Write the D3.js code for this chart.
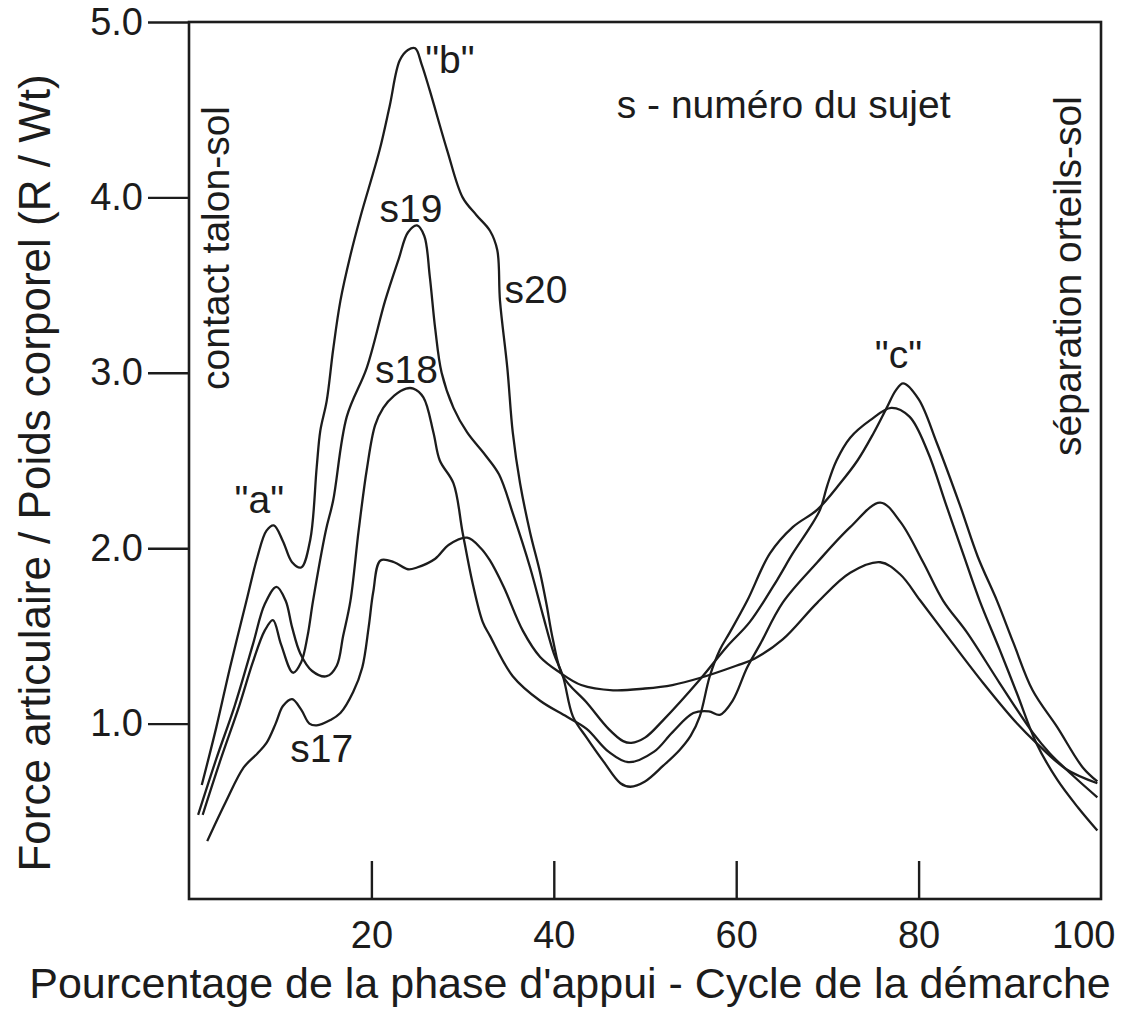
<!DOCTYPE html>
<html>
<head>
<meta charset="utf-8">
<script src="https://cdn.jsdelivr.net/npm/d3@7"></script>
<style>
  body { margin: 0; background: #fff; }
  svg { display: block; font-family: "Liberation Sans", Arial, Helvetica, sans-serif; }
</style>
</head>
<body>
<div id="chart"></div>
<script>
// force curves: [percent of stance phase, R / Wt]
const s17 = [[2,0.33],[4,0.55],[6,0.75],[7.5,0.83],[8.5,0.89],[9.5,1.0],[10.3,1.1],[11.3,1.14],[12.3,1.08],[13.2,1.0],[14,0.99],[15.5,1.02],[16.6,1.06],[18,1.18],[19,1.32],[19.7,1.55],[20.2,1.75],[21,1.93],[22.5,1.92],[24,1.88],[25,1.89],[27,1.94],[28.5,2.02],[30.5,2.06],[32,2.0],[33,1.93],[34.5,1.78],[36.6,1.53],[38.5,1.38],[40.7,1.29],[43,1.22],[46.5,1.19],[50,1.2],[53,1.22],[56,1.26],[60,1.33],[62,1.37],[65.1,1.48],[68.9,1.69],[72.5,1.86],[75.8,1.92],[78,1.85],[80.2,1.70],[83.4,1.48],[87.1,1.23],[90.8,1.0],[92.9,0.89],[96.2,0.74],[99.6,0.66]];
const s18 = [[1.0,0.48],[3,0.8],[5,1.1],[7,1.45],[8.3,1.68],[9.6,1.78],[10.6,1.7],[11.3,1.55],[12.2,1.4],[13.5,1.3],[15.1,1.27],[16.2,1.33],[16.9,1.5],[17.7,1.7],[18.6,2.1],[19.5,2.45],[20.4,2.7],[21.3,2.8],[22.5,2.87],[23.8,2.91],[24.6,2.91],[25.7,2.86],[26.8,2.66],[27.5,2.5],[29,2.37],[30,2.09],[31.1,1.8],[32.2,1.58],[33,1.5],[35.5,1.27],[38.5,1.13],[41.4,1.04],[43.6,0.97],[46,0.84],[48.2,0.78],[51,0.84],[53,0.95],[55.3,1.06],[57,1.07],[58.2,1.05],[59.6,1.13],[61.2,1.32],[62.6,1.45],[65.1,1.69],[68.9,1.92],[72.5,2.12],[75.8,2.26],[78,2.15],[80.5,1.92],[82.7,1.7],[85.3,1.52],[88.9,1.23],[92.5,0.95],[94.4,0.83],[97,0.7],[99.6,0.58]];
const s19 = [[1.5,0.48],[3.5,0.8],[5.5,1.1],[7,1.35],[8.3,1.53],[9.2,1.59],[10.1,1.45],[11.4,1.29],[12.3,1.35],[13,1.5],[13.6,1.7],[15,2.1],[15.8,2.27],[17.3,2.75],[19.5,3.03],[21.5,3.41],[23,3.65],[24,3.8],[25,3.84],[25.8,3.78],[26.4,3.55],[27,3.25],[27.7,3.0],[29,2.8],[30.5,2.66],[32.5,2.53],[34,2.42],[35.5,2.2],[37.4,1.89],[38.8,1.62],[40,1.4],[41,1.27],[42.1,1.04],[43.6,0.92],[45.5,0.78],[47.3,0.66],[48.4,0.64],[50,0.67],[52,0.76],[53.8,0.85],[55,0.93],[56,1.04],[57.1,1.27],[58.2,1.42],[59.3,1.52],[61.2,1.7],[63.7,1.97],[66.2,2.12],[68.9,2.22],[71.4,2.37],[73.3,2.5],[75,2.65],[76.5,2.8],[77.5,2.9],[78.3,2.94],[80,2.85],[82,2.6],[84.5,2.25],[86.5,1.95],[88.6,1.7],[90.4,1.46],[92.5,1.19],[95.2,0.98],[98,0.75],[99.6,0.67]];
const s20 = [[1.4,0.65],[3,0.98],[4.5,1.32],[6.3,1.7],[7.5,1.95],[8.5,2.1],[9.3,2.13],[10.3,2.04],[11.3,1.92],[12.3,1.89],[13.3,2.05],[14,2.46],[14.4,2.67],[15.1,2.84],[15.8,3.13],[16.6,3.41],[17.7,3.67],[18.8,3.89],[20.9,4.27],[22,4.52],[23.1,4.78],[24,4.84],[24.8,4.85],[25.5,4.76],[26.4,4.61],[28.3,4.27],[30,4.0],[31.5,3.9],[33,3.81],[33.8,3.7],[34.1,3.41],[34.9,3.03],[35.5,2.66],[36.3,2.37],[37.4,2.09],[38.5,1.86],[39.2,1.68],[39.9,1.48],[41,1.27],[43.6,1.12],[46,0.97],[47.6,0.9],[48.5,0.89],[50,0.92],[52,1.02],[56,1.25],[59,1.44],[61.5,1.58],[64.5,1.82],[66.2,1.97],[68.1,2.12],[69.2,2.22],[70,2.36],[71,2.5],[72.5,2.63],[74.7,2.73],[77,2.8],[79,2.75],[81,2.55],[83,2.25],[85,1.95],[86.7,1.7],[88.9,1.42],[90.8,1.17],[92.9,0.89],[95.2,0.68],[97.5,0.52],[99.6,0.39]];

const xTicks = [20, 40, 60, 80, 100];
const yTicks = [1, 2, 3, 4, 5];

// annotations: [text, x, y] in data units (left / baseline)
const notes = [
  ['"a"', 5.0, 2.2],
  ['"b"', 25.9, 4.71],
  ['"c"', 75.2, 3.03],
  ['s17', 11.1, 0.78],
  ['s18', 20.4, 2.94],
  ['s19', 20.9, 3.86],
  ['s20', 34.6, 3.40],
  ['s - numéro du sujet', 46.9, 4.45]
];

const width = 1126, height = 1019;
const ink = '#1c1c1c';

const svg = d3.select('#chart').append('svg')
  .attr('width', width)
  .attr('height', height);

const x = d3.scaleLinear().domain([0, 100]).range([189, 1101]);
const y = d3.scaleLinear().domain([0, 5]).range([899, 22]);

// frame
svg.append('rect')
  .attr('x', x(0)).attr('y', y(5))
  .attr('width', x(100) - x(0)).attr('height', y(0) - y(5))
  .attr('fill', 'none').attr('stroke', ink).attr('stroke-width', 2.6);

// y axis: ticks point out to the left
const yAxis = svg.append('g')
  .attr('transform', `translate(${x(0)},0)`)
  .call(d3.axisLeft(y).tickValues(yTicks).tickFormat(d3.format('.1f'))
    .tickSize(41).tickSizeOuter(0).tickPadding(5));

// x axis: ticks point up into the plot
const xAxis = svg.append('g')
  .attr('transform', `translate(0,${y(0)})`)
  .call(d3.axisBottom(x).tickValues(xTicks)
    .tickSize(-38).tickSizeOuter(0).tickPadding(22));

[yAxis, xAxis].forEach(g => {
  g.select('.domain').remove();
  g.selectAll('line').attr('stroke', ink).attr('stroke-width', 2.4);
  g.selectAll('text').attr('fill', ink).style('font-size', '38px')
    .style('font-family', '"Liberation Sans", Arial, sans-serif');
});
// last tick sits on the frame; its label is pulled in so it stays on the page
const lastTick = xAxis.selectAll('.tick').filter(d => d === 100);
lastTick.select('line').remove();
lastTick.select('text').attr('text-anchor', 'end').attr('x', 14);

// curves
const line = d3.line()
  .x(d => x(d[0]))
  .y(d => y(d[1]))
  .curve(d3.curveCatmullRom.alpha(0.5));

svg.append('g').selectAll('path')
  .data([s17, s18, s19, s20])
  .join('path')
  .attr('d', line)
  .attr('fill', 'none')
  .attr('stroke', ink)
  .attr('stroke-width', 2.3)
  .attr('stroke-linejoin', 'round');

// text annotations
svg.append('g').selectAll('text')
  .data(notes)
  .join('text')
  .attr('x', d => x(d[1]))
  .attr('y', d => y(d[2]))
  .attr('fill', ink)
  .style('font-size', '39px')
  .text(d => d[0]);

// vertical event labels
svg.append('text')
  .attr('transform', `translate(229,390) rotate(-90)`)
  .attr('fill', ink).style('font-size', '39px')
  .text('contact talon-sol');

svg.append('text')
  .attr('transform', `translate(1081,456) rotate(-90)`)
  .attr('fill', ink).style('font-size', '39px')
  .text('séparation orteils-sol');

// axis titles
svg.append('text')
  .attr('transform', `translate(50,473) rotate(-90)`)
  .attr('text-anchor', 'middle')
  .attr('fill', ink).style('font-size', '44px')
  .text('Force articulaire / Poids corporel (R / Wt)');

svg.append('text')
  .attr('x', 570).attr('y', 998)
  .attr('text-anchor', 'middle')
  .attr('fill', ink).style('font-size', '43px')
  .text("Pourcentage de la phase d'appui - Cycle de la démarche");
</script>
</body>
</html>
